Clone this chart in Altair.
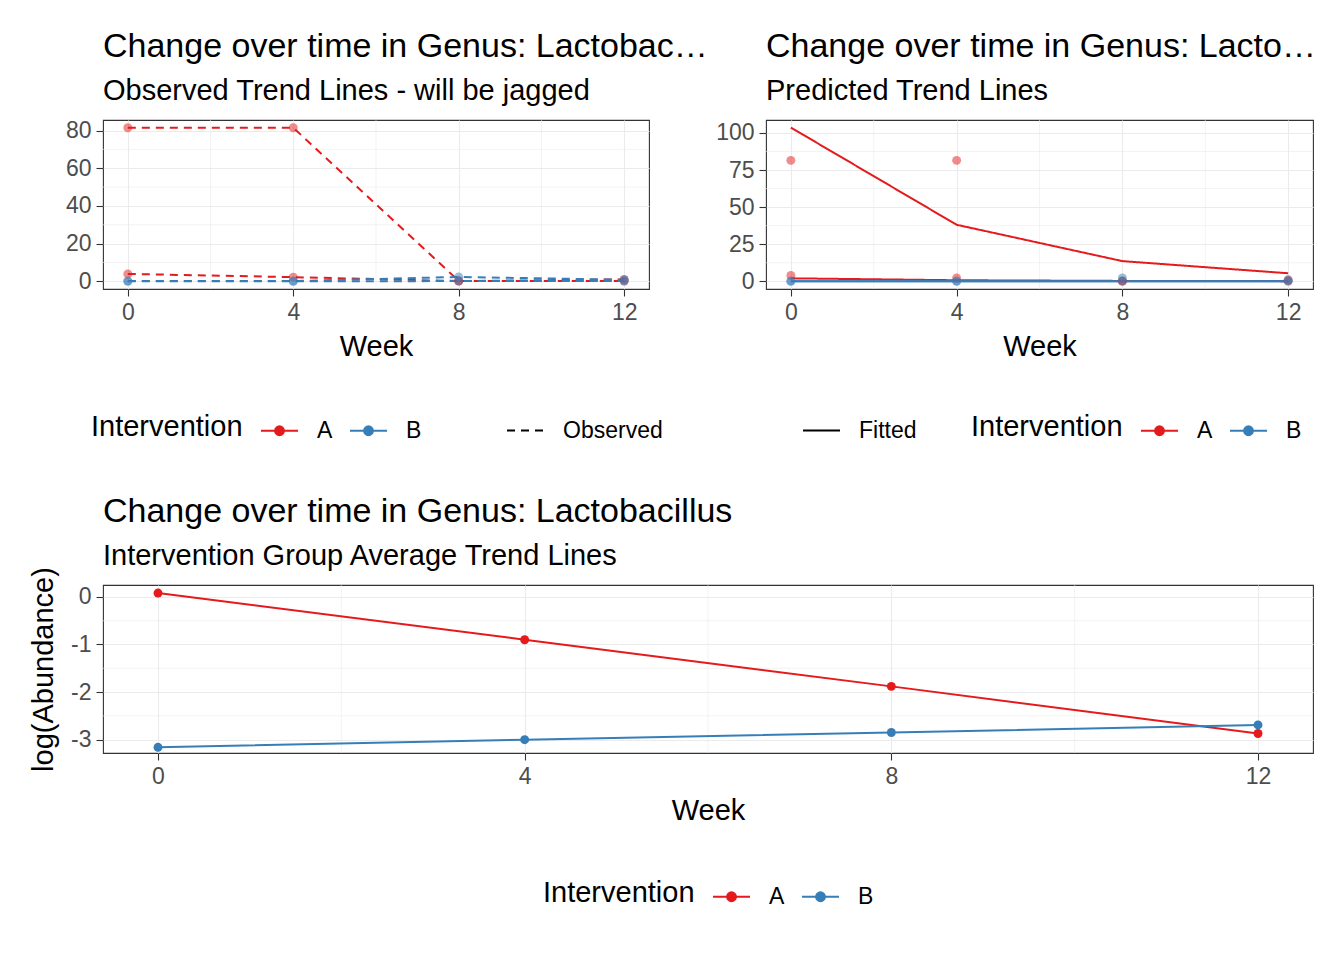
import altair as alt
import pandas as pd

weeks = [0, 4, 8, 12]
subjects = ["A1", "A2", "B1", "B2"]
subject_group = ["A", "A", "B", "B"]
observed = [
    [81.5, 81.5, 0.2, 0.1],
    [3.9, 2.2, 0.1, 1.0],
    [0.1, 0.1, 2.3, 0.8],
    [0.0, 0.0, 0.1, 0.1],
]
fitted = [
    [103.6, 38.1, 13.6, 5.4],
    [2.0, 0.7, 0.25, 0.1],
    [0.05, 0.06, 0.07, 0.08],
    [0.04, 0.05, 0.06, 0.07],
]
avg_groups = ["A", "B"]
avg_log = [
    [0.08, -0.90, -1.88, -2.87],
    [-3.16, -3.00, -2.85, -2.69],
]
x_ticks = [0, 4, 8, 12]
x_minor = [2, 6, 10]
obs_ticks = [0, 20, 40, 60, 80]
obs_minor = [10, 30, 50, 70]
fit_ticks = [0, 25, 50, 75, 100]
fit_minor = [12.5, 37.5, 62.5, 87.5]
log_ticks = [-3, -2, -1, 0]
log_minor = [-2.5, -1.5, -0.5]

title_main = "Change over time in Genus: Lactobacillus"

RED = "#E41A1C"
BLUE = "#377EB8"

obs_rows, fit_rows = [], []
for s, g, o, f in zip(subjects, subject_group, observed, fitted):
    for w, ov, fv in zip(weeks, o, f):
        obs_rows.append({"Subject": s, "Intervention": g, "Week": w, "value": ov, "type": "Observed"})
        fit_rows.append({"Subject": s, "Intervention": g, "Week": w, "value": fv, "type": "Fitted"})
obs_df = pd.DataFrame(obs_rows)
fit_df = pd.DataFrame(fit_rows)
avg_df = pd.DataFrame([
    {"Intervention": g, "Week": w, "value": v}
    for g, vals in zip(avg_groups, avg_log) for w, v in zip(weeks, vals)
])

color_scale = alt.Scale(domain=["A", "B"], range=[RED, BLUE])
sym_path = "M-1,0L1,0M-0.24,0A0.24,0.24 0 1,1 0.24,0A0.24,0.24 0 1,1 -0.24,0Z"


def color_legend(x, y):
    return alt.Legend(
        title="Intervention", orient="none", legendX=x, legendY=y,
        direction="horizontal", titleOrient="left", symbolType=sym_path,
        symbolSize=1369, symbolStrokeWidth=2, labelOffset=18, columnPadding=13,
        titlePadding=17, symbolOpacity=1,
    )


def dash_legend(x, y):
    return alt.Legend(
        title=None, orient="none", legendX=x, legendY=y, direction="horizontal",
        symbolType="stroke", symbolSize=1369, symbolStrokeWidth=2,
        symbolStrokeColor="black", labelOffset=18,
    )


def xaxis():
    return alt.Axis(values=x_ticks, title="Week", labelExpr="datum.value + ''")


W_TOP = 546
H = 169
LEG_Y = 291

xs = alt.Scale(domain=[-0.6, 12.6], nice=False, zero=False)


def minor_layers(ymin, yscale):
    xr = alt.Chart(pd.DataFrame({"m": x_minor})).mark_rule(color="#EBEBEB", strokeWidth=0.6).encode(
        x=alt.X("m:Q", scale=xs))
    yr = alt.Chart(pd.DataFrame({"m": ymin})).mark_rule(color="#EBEBEB", strokeWidth=0.6).encode(
        y=alt.Y("m:Q", scale=yscale))
    return xr, yr


# ---- top left: observed
ys1 = alt.Scale(domain=[-4.1, 85.6], nice=False, zero=False)
xr, yr = minor_layers(obs_minor, ys1)
base1 = alt.Chart(obs_df).encode(
    x=alt.X("Week:Q", scale=xs, axis=xaxis()),
    y=alt.Y("value:Q", scale=ys1, axis=alt.Axis(values=obs_ticks, title=None, labelExpr="datum.value + ''")),
)
l1 = base1.mark_line(strokeWidth=2).encode(
    color=alt.Color("Intervention:N", scale=color_scale, legend=color_legend(-12, LEG_Y)),
    strokeDash=alt.StrokeDash("type:N", scale=alt.Scale(domain=["Observed"], range=[[8, 6]]),
                              legend=dash_legend(403, LEG_Y)),
    detail="Subject:N", order="Week:Q",
)
p1 = base1.mark_circle(size=80, opacity=0.5).encode(
    color=alt.Color("Intervention:N", scale=color_scale, legend=color_legend(-12, LEG_Y)),
)
left = alt.layer(xr, yr, l1, p1).properties(
    width=W_TOP, height=H,
    title=alt.TitleParams(text=title_main, subtitle="Observed Trend Lines - will be jagged", limit=605),
)

# ---- top right: fitted
ys2 = alt.Scale(domain=[-5.2, 108.7], nice=False, zero=False)
xr2, yr2 = minor_layers(fit_minor, ys2)
l2 = alt.Chart(fit_df).mark_line(strokeWidth=2).encode(
    x=alt.X("Week:Q", scale=xs, axis=xaxis()),
    y=alt.Y("value:Q", scale=ys2, axis=alt.Axis(values=fit_ticks, title=None, labelExpr="datum.value + ''")),
    color=alt.Color("Intervention:N", scale=color_scale, legend=color_legend(205, LEG_Y)),
    strokeDash=alt.StrokeDash("type:N", scale=alt.Scale(domain=["Fitted"], range=[[1, 0]]),
                              legend=dash_legend(36, LEG_Y)),
    detail="Subject:N", order="Week:Q",
)
p2 = alt.Chart(obs_df).mark_circle(size=80, opacity=0.5).encode(
    x=alt.X("Week:Q", scale=xs),
    y=alt.Y("value:Q", scale=ys2),
    color=alt.Color("Intervention:N", scale=color_scale, legend=color_legend(205, LEG_Y)),
)
right = alt.layer(xr2, yr2, l2, p2).properties(
    width=547, height=H,
    title=alt.TitleParams(text=title_main, subtitle="Predicted Trend Lines", limit=562),
)

# ---- bottom: group averages
ys3 = alt.Scale(domain=[-3.28, 0.25], nice=False, zero=False)
xr3, yr3 = minor_layers(log_minor, ys3)
base3 = alt.Chart(avg_df).encode(
    x=alt.X("Week:Q", scale=xs, axis=xaxis()),
    y=alt.Y("value:Q", scale=ys3, axis=alt.Axis(values=log_ticks, title="log(Abundance)",
                                                 titlePadding=12, labelExpr="datum.value + ''")),
    color=alt.Color("Intervention:N", scale=color_scale, legend=color_legend(440, LEG_Y + 1)),
)
l3 = base3.mark_line(strokeWidth=2).encode(order="Week:Q")
p3 = base3.mark_circle(size=80, opacity=1)
bottom = alt.layer(xr3, yr3, l3, p3).properties(
    width=1210, height=168,
    title=alt.TitleParams(text=title_main, subtitle="Intervention Group Average Trend Lines", offset=-4),
)

top = alt.hconcat(left, right, spacing=117, bounds="flush").resolve_scale(
    color="independent", strokeDash="independent")
chart = alt.vconcat(top, bottom, spacing=465, bounds="flush").resolve_scale(
    color="independent", strokeDash="independent"
).properties(
    padding={"left": 20, "top": 21, "right": 0, "bottom": 0}
).configure(font="Liberation Sans").configure_view(
    stroke="#333333", strokeWidth=1.1
).configure_axis(
    labelFontSize=23, titleFontSize=29, labelColor="#4D4D4D", titleColor="black",
    titleFontWeight="normal", tickColor="#333333", tickSize=7, tickWidth=1.1,
    domain=False, gridColor="#EBEBEB", gridWidth=1.1, labelPadding=5, titlePadding=8,
    labelFont="Liberation Sans", titleFont="Liberation Sans",
).configure_title(
    fontSize=34, fontWeight="normal", anchor="start", frame="group", subtitleFontSize=29,
    subtitleColor="black", color="black", offset=14, subtitlePadding=13,
    font="Liberation Sans", subtitleFont="Liberation Sans",
).configure_legend(
    titleFontSize=29, labelFontSize=23, titleFontWeight="normal", titleColor="black",
    labelColor="black", padding=0, titleFont="Liberation Sans", labelFont="Liberation Sans",
)

chart.save("out.html", embed_options={"renderer": "svg", "actions": False})
